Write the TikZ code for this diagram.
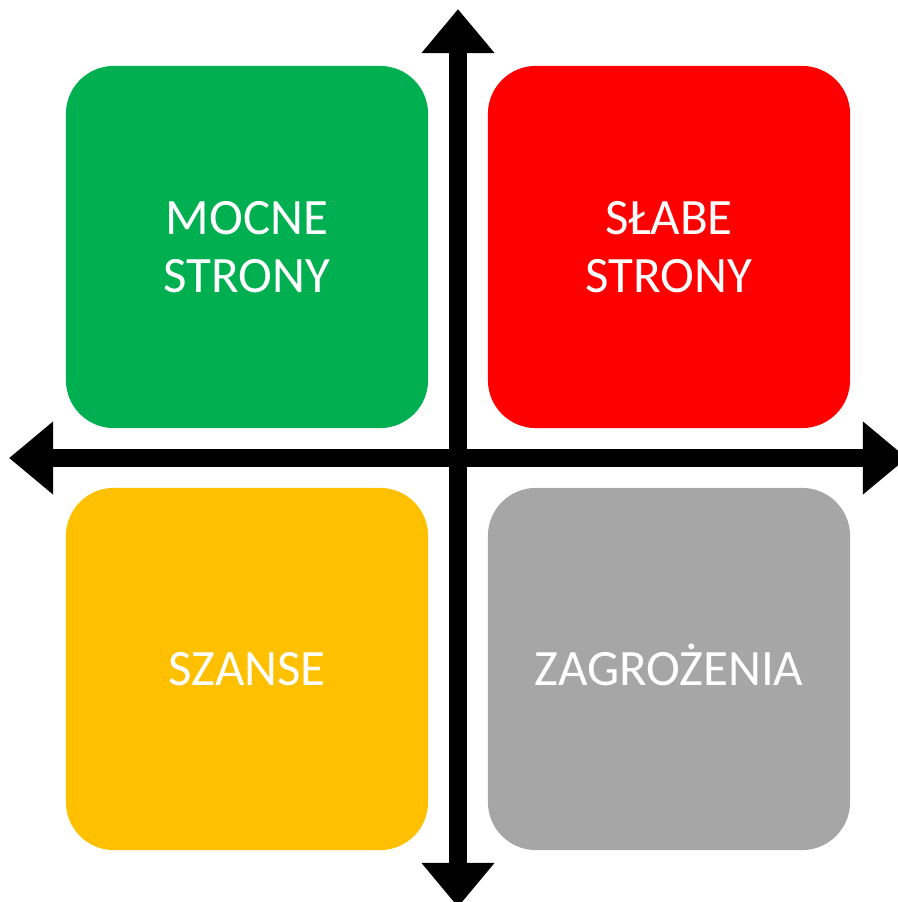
\documentclass[tikz,border=0pt]{standalone}
\usepackage{fontspec}
\setmainfont{Carlito}
\usepackage{tikz}
\usetikzlibrary{arrows.meta}

\definecolor{mocne}{HTML}{00B050}
\definecolor{slabe}{HTML}{FF0000}
\definecolor{szanse}{HTML}{FFC000}
\definecolor{zagr}{HTML}{A6A6A6}

\tikzset{
  pole/.style={rounded corners=0.48cm, minimum width=3.62cm, minimum height=3.62cm,
    text=white, align=center, inner sep=0pt,
    font=\fontsize{14.5}{16.5}\selectfont},
  jeden/.style={text height=0.33cm, text depth=0pt},
  osie/.style={line width=0.18cm, {Triangle[width=0.7cm,length=0.44cm]}-{Triangle[width=0.7cm,length=0.44cm]}}
}

\begin{document}
\begin{tikzpicture}[x=0.01cm, y=-0.01cm]
\useasboundingbox (0,0) rectangle (898,902);

\draw (247, 247) node[pole, fill=mocne] (ms) {MOCNE\\STRONY} ;
\draw (669, 247) node[pole, fill=slabe] (ss) {SŁABE\\STRONY} ;

\draw (247, 669) node[pole, jeden, fill=szanse] (sz) {SZANSE} ;
\draw (669, 669) node[pole, jeden, fill=zagr] (zg) {ZAGROŻENIA} ;

\coordinate (gora) at (458, 9) ;
\coordinate (dol) at (458, 907) ;
\coordinate (lewo) at (9, 458) ;
\coordinate (prawo) at (907, 458) ;

\draw[osie] (dol) to (gora) ;
\draw[osie] (lewo) to (prawo) ;
\end{tikzpicture}
\end{document}
